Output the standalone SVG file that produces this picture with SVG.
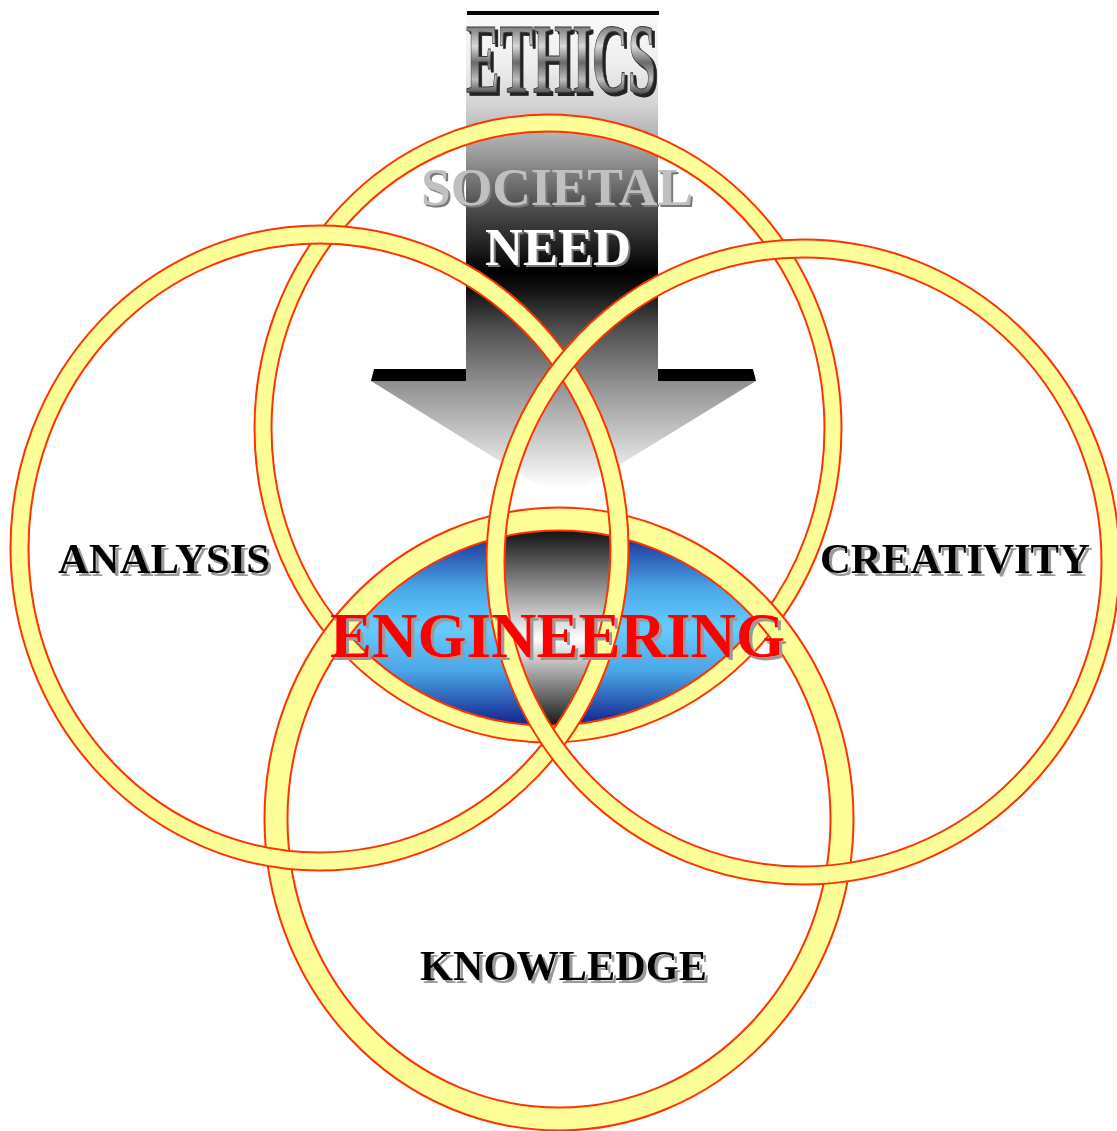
<svg xmlns="http://www.w3.org/2000/svg" width="1117" height="1131" viewBox="0 0 1117 1131">
<style>
.ringR{fill:none;stroke:#FF3300}
.ringY{fill:none;stroke:#FFFF99}
.lbl{font-family:"Liberation Serif","Times New Roman",serif;font-weight:bold}
</style>
<defs>
<linearGradient id="shaft" gradientUnits="userSpaceOnUse" x1="0" y1="15" x2="0" y2="381">
<stop offset="0" stop-color="#fafafa"/>
<stop offset="0.14" stop-color="#ededed"/>
<stop offset="0.25" stop-color="#d2d2d2"/>
<stop offset="0.37" stop-color="#a0a0a0"/>
<stop offset="0.51" stop-color="#555555"/>
<stop offset="0.61" stop-color="#2a2a2a"/>
<stop offset="0.70" stop-color="#000000"/>
<stop offset="0.75" stop-color="#111111"/>
<stop offset="0.86" stop-color="#505050"/>
<stop offset="1" stop-color="#8c8c8c"/>
</linearGradient>
<linearGradient id="head" gradientUnits="userSpaceOnUse" x1="0" y1="381" x2="0" y2="500">
<stop offset="0" stop-color="#8e8e8e"/>
<stop offset="0.9" stop-color="#ffffff"/>
</linearGradient>
<linearGradient id="blue" gradientUnits="userSpaceOnUse" x1="0" y1="530" x2="0" y2="726">
<stop offset="0" stop-color="#16238e"/>
<stop offset="0.3" stop-color="#4aa8e8"/>
<stop offset="0.5" stop-color="#66ccff"/>
<stop offset="0.72" stop-color="#4aa6e6"/>
<stop offset="1" stop-color="#121f8a"/>
</linearGradient>
<linearGradient id="gray" gradientUnits="userSpaceOnUse" x1="0" y1="530" x2="0" y2="728">
<stop offset="0" stop-color="#111111"/>
<stop offset="0.55" stop-color="#ffffff"/>
<stop offset="1" stop-color="#111111"/>
</linearGradient>
<linearGradient id="metal" gradientUnits="userSpaceOnUse" x1="0" y1="26" x2="0" y2="93">
<stop offset="0" stop-color="#7a7a7a"/>
<stop offset="0.3" stop-color="#d8d8d8"/>
<stop offset="0.55" stop-color="#6a6a6a"/>
<stop offset="0.8" stop-color="#bdbdbd"/>
<stop offset="1" stop-color="#555555"/>
</linearGradient>
<filter id="shGray" x="-5%" y="-20%" width="115%" height="150%">
<feDropShadow dx="3" dy="3" stdDeviation="0.6" flood-color="#9a9a9a" flood-opacity="1"/>
</filter>
<filter id="shDark" x="-5%" y="-20%" width="115%" height="150%">
<feDropShadow dx="3" dy="3" stdDeviation="0.5" flood-color="#222222" flood-opacity="1"/>
</filter>
<filter id="shMid" x="-5%" y="-20%" width="115%" height="150%">
<feDropShadow dx="2" dy="2" stdDeviation="0.5" flood-color="#7a7a7a" flood-opacity="1"/>
</filter>
<clipPath id="cT"><ellipse cx="548" cy="428.5" rx="285" ry="305.5"/></clipPath>
<clipPath id="cB"><ellipse cx="559" cy="819" rx="283" ry="300"/></clipPath>
<clipPath id="cL"><ellipse cx="319.5" cy="548" rx="300" ry="313.5"/></clipPath>
<clipPath id="cR"><ellipse cx="803" cy="562" rx="307.5" ry="313.5"/></clipPath>
</defs>
<rect width="1117" height="1131" fill="#ffffff"/>

<g id="arrow">
<rect x="466" y="15" width="192" height="366" fill="url(#shaft)"/>
<polygon points="371,381 756,381 562,500" fill="url(#head)"/>
<polygon points="467,11 659,11 659,15 467,15" fill="#000"/>
<polygon points="374,369 466,369 466,381 371,381" fill="#000"/>
<polygon points="658,369 753,369 756,381 658,381" fill="#000"/>
</g>

<g id="engineering-lens">
<g clip-path="url(#cB)"><ellipse cx="548" cy="428.5" rx="285" ry="305.5" fill="url(#blue)"/></g>
<g clip-path="url(#cL)"><g clip-path="url(#cR)"><g clip-path="url(#cB)"><ellipse cx="548" cy="428.5" rx="285" ry="305.5" fill="url(#gray)"/></g></g></g>
</g>

<g id="ring-top">
<ellipse class="ringR" cx="548" cy="428.5" rx="285" ry="305.5" stroke-width="19"/>
<ellipse class="ringY" cx="548" cy="428.5" rx="285" ry="305.5" stroke-width="15"/>
</g>
<g id="ring-knowledge">
<ellipse class="ringR" cx="559" cy="819" rx="283" ry="300" stroke-width="25"/>
<ellipse class="ringY" cx="559" cy="819" rx="283" ry="300" stroke-width="21"/>
</g>
<g id="ring-analysis">
<ellipse class="ringR" cx="319.5" cy="548" rx="300" ry="313.5" stroke-width="20"/>
<ellipse class="ringY" cx="319.5" cy="548" rx="300" ry="313.5" stroke-width="16"/>
</g>
<g id="ring-creativity">
<ellipse class="ringR" cx="803" cy="562" rx="307.5" ry="313.5" stroke-width="20"/>
<ellipse class="ringY" cx="803" cy="562" rx="307.5" ry="313.5" stroke-width="16"/>
</g>

<g id="ethics">
<text class="lbl" x="466" y="92" font-size="100" textLength="190" lengthAdjust="spacingAndGlyphs" fill="url(#metal)" stroke="#3a3a3a" stroke-width="1" filter="url(#shDark)">ETHICS</text>
</g>
<g id="societal-need">
<text class="lbl" x="421" y="205" font-size="53" textLength="272" lengthAdjust="spacingAndGlyphs" fill="#c0c0c0" filter="url(#shMid)">SOCIETAL</text>
<text class="lbl" x="485" y="265" font-size="53" textLength="146" lengthAdjust="spacingAndGlyphs" fill="#ffffff" filter="url(#shMid)">NEED</text>
</g>
<g id="engineering">
<text class="lbl" x="330" y="657" font-size="63" textLength="455" lengthAdjust="spacingAndGlyphs" fill="#ff0000" filter="url(#shGray)">ENGINEERING</text>
</g>
<g id="analysis">
<text class="lbl" x="58" y="573" font-size="42" textLength="212" lengthAdjust="spacingAndGlyphs" fill="#000" filter="url(#shGray)">ANALYSIS</text>
</g>
<g id="creativity">
<text class="lbl" x="820" y="573" font-size="42" textLength="270" lengthAdjust="spacingAndGlyphs" fill="#000" filter="url(#shGray)">CREATIVITY</text>
</g>
<g id="knowledge">
<text class="lbl" x="420" y="980" font-size="42" textLength="287" lengthAdjust="spacingAndGlyphs" fill="#000" filter="url(#shGray)">KNOWLEDGE</text>
</g>
</svg>
